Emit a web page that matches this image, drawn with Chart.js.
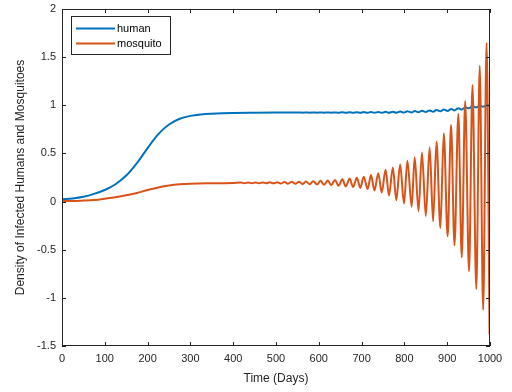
<!DOCTYPE html>
<html>
<head>
<meta charset="utf-8">
<title>Infected humans and mosquitoes</title>
<script src="https://cdn.jsdelivr.net/npm/chart.js@4.4.1/dist/chart.umd.min.js"></script>
<style>
  html, body { margin: 0; padding: 0; background: #fff; }
  #chart { display: block; }
</style>
</head>
<body>
<canvas id="chart" width="512" height="392"></canvas>
<script>
// values
const xTicks = [0, 100, 200, 300, 400, 500, 600, 700, 800, 900, 1000];
const yTicks = [-1.5, -1, -0.5, 0, 0.5, 1, 1.5, 2];

const humanDays = [0, 25, 50, 75, 100, 125, 150, 175, 200, 225, 250, 275, 300, 325, 350, 375, 400, 450, 500, 550,
    554, 562, 570, 579, 587, 596, 604, 612, 621, 629, 638, 646, 655, 663, 672, 680, 689, 697, 705, 714,
    722, 730, 739, 747, 756, 764, 773, 781, 790, 799, 807, 817, 824, 833, 841, 850, 859, 867, 875, 884,
    892, 901, 909, 917, 926, 934, 942, 951, 959, 968, 976, 984, 993, 1000];
const humanValues = [0.025, 0.033, 0.05, 0.08, 0.12, 0.18, 0.27, 0.4, 0.555, 0.7, 0.8, 0.86, 0.89, 0.905, 0.913, 0.918, 0.921, 0.923, 0.924, 0.924,
    0.925, 0.923, 0.925, 0.923, 0.925, 0.923, 0.926, 0.923, 0.926, 0.923, 0.926, 0.922, 0.927, 0.922, 0.927, 0.922, 0.928, 0.922, 0.929, 0.922,
    0.93, 0.922, 0.93, 0.922, 0.932, 0.922, 0.933, 0.923, 0.935, 0.924, 0.937, 0.926, 0.94, 0.928, 0.943, 0.93, 0.947, 0.933, 0.951, 0.937,
    0.956, 0.941, 0.962, 0.947, 0.97, 0.955, 0.98, 0.968, 0.99, 0.978, 0.998, 0.985, 1.003, 0.99];

const mosquitoDays = [0, 25, 50, 75, 100, 125, 150, 175, 200, 225, 250, 275, 300, 350, 400,
    418, 427, 435, 443, 452, 460, 469, 477, 486, 494, 503, 511, 520, 528, 537, 545, 554, 562, 570, 579,
    587, 596, 604, 612, 621, 629, 638, 646, 655, 663, 672, 680, 689, 697, 705, 714, 722, 730, 739, 747,
    756, 764, 773, 781, 790, 799, 807, 817, 824, 833, 841, 850, 859, 867, 875, 884, 892, 901, 909, 917,
    926, 934, 942, 951, 959, 968, 976, 984, 992, 999];
const mosquitoValues = [0.005, 0.005, 0.01, 0.017, 0.03, 0.045, 0.065, 0.09, 0.12, 0.147, 0.167, 0.179, 0.185, 0.19, 0.193,
    0.197, 0.191, 0.198, 0.191, 0.198, 0.19, 0.199, 0.19, 0.2, 0.189, 0.201, 0.188, 0.203, 0.186, 0.205, 0.184, 0.207, 0.182, 0.209, 0.18,
    0.212, 0.177, 0.215, 0.174, 0.219, 0.17, 0.225, 0.165, 0.231, 0.158, 0.239, 0.151, 0.247, 0.142, 0.259, 0.13, 0.275, 0.115, 0.295, 0.095,
    0.33, 0.063, 0.355, 0.015, 0.385, -0.02, 0.425, -0.055, 0.46, -0.1, 0.51, -0.15, 0.565, -0.205, 0.625, -0.275, 0.71, -0.36, 0.795, -0.455,
    0.91, -0.58, 1.045, -0.725, 1.21, -0.91, 1.41, -1.125, 1.65, -1.38];

const seriesLabels = ['human', 'mosquito'];
const seriesColors = ['#0072BD', '#D95319'];

const axisColor = '#262626';
const fontFamily = '"Liberation Sans", Arial, Helvetica, sans-serif';

function toPoints(days, values) {
    return days.map((d, i) => ({ x: d, y: values[i] }));
}

// box around the plot with inward tick marks, MATLAB style
const boxPlugin = {
    id: 'boxPlugin',
    afterDraw(chart) {
        const { ctx, chartArea: a, scales } = chart;
        const len = 4;
        ctx.save();
        ctx.strokeStyle = axisColor;
        ctx.lineWidth = 1;
        ctx.strokeRect(a.left + 0.5, a.top + 0.5, a.right - a.left - 1, a.bottom - a.top - 1);
        ctx.beginPath();
        xTicks.forEach(v => {
            const px = Math.round(scales.x.getPixelForValue(v)) + 0.5;
            ctx.moveTo(px, a.bottom); ctx.lineTo(px, a.bottom - len);
            ctx.moveTo(px, a.top); ctx.lineTo(px, a.top + len);
        });
        yTicks.forEach(v => {
            const py = Math.round(scales.y.getPixelForValue(v)) + 0.5;
            ctx.moveTo(a.left, py); ctx.lineTo(a.left + len, py);
            ctx.moveTo(a.right, py); ctx.lineTo(a.right - len, py);
        });
        ctx.stroke();
        ctx.restore();
    }
};

// legend box in the upper left corner of the plot
const legendPlugin = {
    id: 'legendPlugin',
    afterDatasetsDraw(chart) {
        const { ctx } = chart;
        const box = { x: 71.5, y: 16.5, w: 99, h: 38 };
        ctx.save();
        ctx.fillStyle = '#fff';
        ctx.fillRect(box.x, box.y, box.w, box.h);
        ctx.strokeStyle = axisColor;
        ctx.lineWidth = 1;
        ctx.strokeRect(box.x, box.y, box.w, box.h);
        ctx.font = '11px ' + fontFamily;
        ctx.textBaseline = 'middle';
        ctx.textAlign = 'left';
        chart.data.datasets.forEach((ds, i) => {
            const y = 28.5 + i * 15;
            ctx.strokeStyle = ds.borderColor;
            ctx.lineWidth = 2;
            ctx.beginPath();
            ctx.moveTo(76, y);
            ctx.lineTo(115, y);
            ctx.stroke();
            ctx.fillStyle = '#000';
            ctx.fillText(ds.label, 117, y);
        });
        ctx.restore();
    }
};

const ctx = document.getElementById('chart').getContext('2d');
new Chart(ctx, {
    type: 'line',
    data: {
        datasets: [{
            label: seriesLabels[0],
            data: toPoints(humanDays, humanValues),
            borderColor: seriesColors[0],
            borderWidth: 2,
            pointRadius: 0,
            cubicInterpolationMode: 'monotone',
            order: 1
        }, {
            label: seriesLabels[1],
            data: toPoints(mosquitoDays, mosquitoValues),
            borderColor: seriesColors[1],
            borderWidth: 2,
            pointRadius: 0,
            cubicInterpolationMode: 'monotone',
            order: 0
        }]
    },
    options: {
        responsive: false,
        animation: false,
        layout: { padding: { left: 0, top: 9, right: 22, bottom: 0 } },
        plugins: {
            legend: { display: false },
            tooltip: { enabled: false }
        },
        scales: {
            x: {
                type: 'linear',
                min: 0,
                max: 1000,
                grid: { display: false, drawTicks: false },
                border: { display: false },
                afterBuildTicks: s => { s.ticks = xTicks.map(v => ({ value: v })); },
                afterFit: s => { s.height = 46; s.paddingLeft = 0; s.paddingRight = 0; },
                ticks: {
                    color: axisColor,
                    font: { family: fontFamily, size: 11 },
                    padding: 6,
                    maxRotation: 0,
                    autoSkip: false,
                    callback: v => String(v)
                },
                title: {
                    display: true,
                    text: 'Time (Days)',
                    color: axisColor,
                    font: { family: fontFamily, size: 12 },
                    padding: { top: 0, bottom: 6 }
                }
            },
            y: {
                min: -1.5,
                max: 2,
                grid: { display: false, drawTicks: false },
                border: { display: false },
                afterBuildTicks: s => { s.ticks = yTicks.map(v => ({ value: v })); },
                afterFit: s => { s.width = 62; s.paddingTop = 0; s.paddingBottom = 0; },
                ticks: {
                    color: axisColor,
                    font: { family: fontFamily, size: 11 },
                    padding: 6,
                    autoSkip: false,
                    callback: v => String(v)
                },
                title: {
                    display: true,
                    text: 'Density of Infected Humans and Mosquitoes',
                    color: axisColor,
                    font: { family: fontFamily, size: 12 },
                    padding: { top: 13, bottom: 0 }
                }
            }
        }
    },
    plugins: [boxPlugin, legendPlugin]
});
</script>
</body>
</html>
